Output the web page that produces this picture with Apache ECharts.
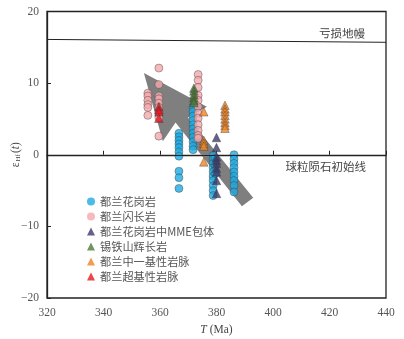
<!DOCTYPE html>
<html>
<head>
<meta charset="utf-8">
<script src="https://cdn.jsdelivr.net/npm/echarts@6/dist/echarts.min.js"></script>
<style>
  html, body { margin: 0; padding: 0; background: #fff; }
  #chart { width: 404px; height: 339px; }
</style>
</head>
<body>
<div id="chart"></div>
<script>
// 图例类别
var categories = ['都兰花岗岩', '都兰闪长岩', '都兰花岗岩中MME包体', '锡铁山辉长岩', '都兰中一基性岩脉', '都兰超基性岩脉'];

// 各岩类 [T(Ma), εHf(t)]
var granite = [
  [366.7, 3.0], [366.7, 2.5], [366.7, 2.0], [366.7, 1.5], [366.7, 1.0], [366.7, 0.4], [366.7, -0.2],
  [366.7, -2.3], [366.7, -3.2], [366.7, -4.7],
  [371.7, 6.6], [371.7, 6.0], [371.7, 5.4], [371.7, 4.8], [371.7, 4.2], [371.7, 3.6], [371.7, 3.0],
  [371.7, 2.4], [371.7, 1.8], [371.7, 1.2], [371.7, 0.7],
  [378.8, -0.1], [378.8, -0.6], [378.8, -1.2], [378.8, -1.8], [378.8, -2.4], [378.8, -3.0],
  [378.8, -3.6], [378.8, -4.3], [378.8, -5.0], [378.8, -5.7],
  [379.5, -0.5], [379.5, -1.5], [379.5, -2.6],
  [386.2, 0.0], [386.2, -0.6], [386.2, -1.2], [386.2, -1.8], [386.2, -2.4], [386.2, -3.0],
  [386.2, -3.6], [386.2, -4.3], [386.2, -5.2]
];
var diorite = [
  [355.7, 8.6], [355.7, 8.2], [355.7, 7.6], [355.7, 7.0], [355.7, 6.6], [355.7, 5.5],
  [359.6, 12.1], [359.6, 9.8], [359.6, 8.2], [359.6, 7.8], [359.6, 7.2], [359.6, 6.6],
  [359.6, 5.8], [359.6, 5.2], [359.6, 2.6],
  [373.5, 11.2], [373.5, 10.4], [373.5, 9.4], [373.5, 8.3], [373.5, 7.6], [373.5, 6.7],
  [373.5, 5.8], [373.5, 5.1], [373.5, 4.2], [373.5, 3.4], [373.5, 2.7], [373.5, 2.3]
];
var mme = [
  [380, 2.4], [380, 1.0], [380, -0.3], [380, -0.8], [380, -1.2], [380, -1.9],
  [380, -2.4], [380, -3.6], [380, -5.4]
];
var gabbro = [
  [372, 9.3], [372, 8.9], [372, 8.4], [372, 8.0], [372, 7.6], [372, 7.3]
];
var maficDyke = [
  [375.5, 6.0], [375.5, 2.0], [375.5, 1.6], [375.5, 1.2], [375.5, -1.0],
  [383, 6.9], [383, 6.4], [383, 6.0], [383, 5.5], [383, 5.0], [383, 4.5], [383, 4.1], [383, 3.7]
];
var ultramaficDyke = [
  [359.6, 6.7], [359.6, 6.3], [359.6, 6.0], [359.6, 5.1]
];

// 演化箭头顶点
var arrowT = [354.3, 376.6, 369.9, 393.0, 389.0, 365.5, 361.0];
var arrowE = [11.4, 6.7, 5.2, -6.0, -7.2, 4.5, 1.9];

// 参考线
var dmT = [320, 440];
var dmE = [16.1, 15.7];
var chur = 0;

var xTicks = { min: 320, max: 440, interval: 20 };
var yTicks = { min: -20, max: 20, interval: 10 };

var colors = ['#1eaae2', '#f4a9ab', '#3d3b6b', '#4b7a3a', '#f08322', '#e8161f'];
var symbols = ['circle', 'circle', 'triangle', 'triangle', 'triangle', 'triangle'];
var groups = [granite, diorite, mme, gabbro, maficDyke, ultramaficDyke];

var myChart = echarts.init(document.getElementById('chart'));

var serif = 'Liberation Serif';
var cjk = '"Noto Sans CJK SC", "Liberation Serif"';

var series = [
  {
    type: 'custom',
    silent: true,
    z: 1,
    data: [[arrowT[0], arrowE[0]]],
    renderItem: function (params, api) {
      var pts = arrowT.map(function (t, i) { return api.coord([t, arrowE[i]]); });
      return { type: 'polygon', shape: { points: pts }, style: { fill: '#7f7f7f' } };
    }
  },
  {
    type: 'line',
    data: [],
    silent: true,
    z: 2,
    markLine: {
      silent: true,
      symbol: 'none',
      animation: false,
      lineStyle: { color: '#222', width: 1, type: 'solid' },
      data: [
        [
          { coord: [dmT[0], dmE[0]] },
          { coord: [dmT[1], dmE[1]], label: { formatter: '亏损地幔', position: 'insideEndTop', distance: [21, 3] } }
        ],
        [
          { coord: [xTicks.min, chur] },
          { coord: [xTicks.max, chur], label: { formatter: '球粒陨石初始线', position: 'insideEndBottom', distance: [20, 6] } }
        ]
      ],
      label: {
        show: true,
        color: '#444',
        fontFamily: cjk,
        fontSize: 11.5
      }
    }
  }
];

groups.forEach(function (g, i) {
  series.push({
    name: categories[i],
    type: 'scatter',
    z: 3 + i,
    symbol: symbols[i],
    symbolSize: symbols[i] === 'circle' ? 8 : 8.5,
    data: g,
    itemStyle: {
      color: colors[i],
      borderColor: '#3a3a3a',
      borderWidth: 0.5
    }
  });
});

var option = {
  animation: false,
  grid: {
    left: 47, right: 18, top: 11.5, bottom: 41,
    show: true,
    borderColor: '#222',
    borderWidth: 1.3,
    containLabel: false,
    outerBoundsMode: 'none'
  },
  legend: {
    data: categories,
    orient: 'vertical',
    left: 82,
    top: 190,
    itemWidth: 8,
    itemHeight: 8,
    itemGap: 2,
    itemStyle: { borderWidth: 0 },
    textStyle: { color: '#555', fontFamily: cjk, fontSize: 11.2, lineHeight: 13 }
  },
  xAxis: {
    type: 'value',
    min: xTicks.min,
    max: xTicks.max,
    interval: xTicks.interval,
    name: '{i|T} (Ma)',
    nameLocation: 'middle',
    nameGap: 25,
    nameTextStyle: {
      color: '#444', fontFamily: serif, fontSize: 11.5,
      rich: { i: { fontStyle: 'italic', fontFamily: serif, fontSize: 11.5, color: '#444' } }
    },
    axisLine: { lineStyle: { color: '#222', width: 1.3 } },
    axisTick: { inside: true, length: 4, lineStyle: { color: '#222' } },
    axisLabel: { color: '#555', fontFamily: serif, fontSize: 11.5, margin: 9 },
    splitLine: { show: false }
  },
  yAxis: {
    type: 'value',
    min: yTicks.min,
    max: yTicks.max,
    interval: yTicks.interval,
    name: 'ε{s|Hf}({i|t})',
    nameLocation: 'middle',
    nameRotate: 90,
    nameGap: 25,
    nameMoveOverlap: false,
    nameTextStyle: {
      color: '#444', fontFamily: serif, fontSize: 11.5,
      rich: {
        s: { fontSize: 7, fontFamily: serif, color: '#444', padding: [6, 1, 0, 1] },
        i: { fontStyle: 'italic', fontFamily: serif, fontSize: 11.5, color: '#444' }
      }
    },
    axisLine: { lineStyle: { color: '#222', width: 1.3 } },
    axisTick: { inside: true, length: 4, lineStyle: { color: '#222' } },
    axisLabel: {
      color: '#555', fontFamily: serif, fontSize: 11.5, margin: 8,
      formatter: function (v) { return String(v).replace('-', '\u2212'); }
    },
    splitLine: { show: false }
  },
  series: series
};

myChart.setOption(option);
</script>
</body>
</html>
